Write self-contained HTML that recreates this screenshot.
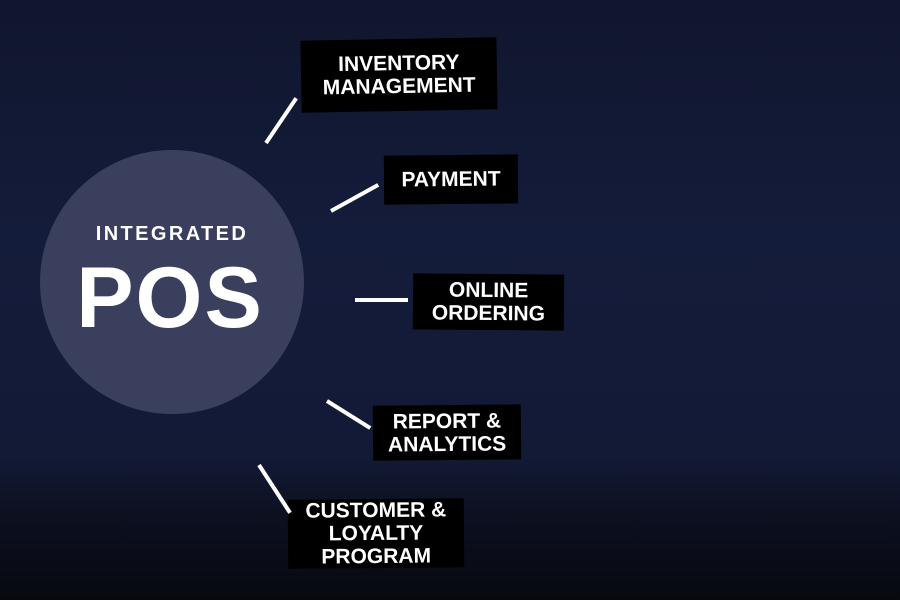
<!DOCTYPE html>
<html><head><meta charset="utf-8"><style>
html,body{margin:0;padding:0}
body{width:900px;height:600px;position:relative;overflow:hidden;font-family:"Liberation Sans",sans-serif;
background:linear-gradient(180deg,#10162d 0%,#141c3b 40%,#131a36 76%,#0c1020 86%,#07090f 100%);}
.circle{position:absolute;left:40px;top:150px;width:264px;height:264px;border-radius:50%;background:#3a3f5d}
.integ{position:absolute;left:40px;width:264px;top:223px;text-align:center;color:#fff;font-weight:bold;font-size:20px;letter-spacing:2.4px}
.pos{position:absolute;left:38px;width:264px;top:250px;text-align:center;color:#fff;font-weight:bold;font-size:86px;letter-spacing:2px;line-height:96px}
.box{position:absolute;background:#000;color:#fff;font-weight:bold;font-size:21px;line-height:23px;text-align:center;display:flex;align-items:center;justify-content:center;box-sizing:border-box}
.line{position:absolute;height:4px;background:#fff;transform-origin:0 50%}
</style></head><body>
<div class="circle"></div>
<div class="integ">INTEGRATED</div>
<div class="pos">POS</div>

<div class="box" style="left:301px;top:39px;width:196px;height:72px;transform:rotate(-1deg)">INVENTORY<br>MANAGEMENT</div>
<div class="box" style="left:384px;top:155px;width:134px;height:49px;transform:rotate(-0.5deg)">PAYMENT</div>
<div class="box" style="left:413px;top:274px;width:151px;height:56px;transform:rotate(0.5deg)">ONLINE<br>ORDERING</div>
<div class="box" style="left:373px;top:405px;width:148px;height:55px;transform:rotate(-0.5deg)">REPORT &amp;<br>ANALYTICS</div>
<div class="box" style="left:288px;top:499px;width:176px;height:69px;transform:rotate(-0.5deg)">CUSTOMER &amp;<br>LOYALTY<br>PROGRAM</div>

<div class="line" style="left:266px;top:141px;width:54px;transform:rotate(-56deg)"></div>
<div class="line" style="left:331px;top:209px;width:54px;transform:rotate(-29deg)"></div>
<div class="line" style="left:355px;top:298px;width:53px"></div>
<div class="line" style="left:327px;top:399px;width:51px;transform:rotate(32deg)"></div>
<div class="line" style="left:259px;top:463px;width:57px;transform:rotate(57deg)"></div>
</body></html>
